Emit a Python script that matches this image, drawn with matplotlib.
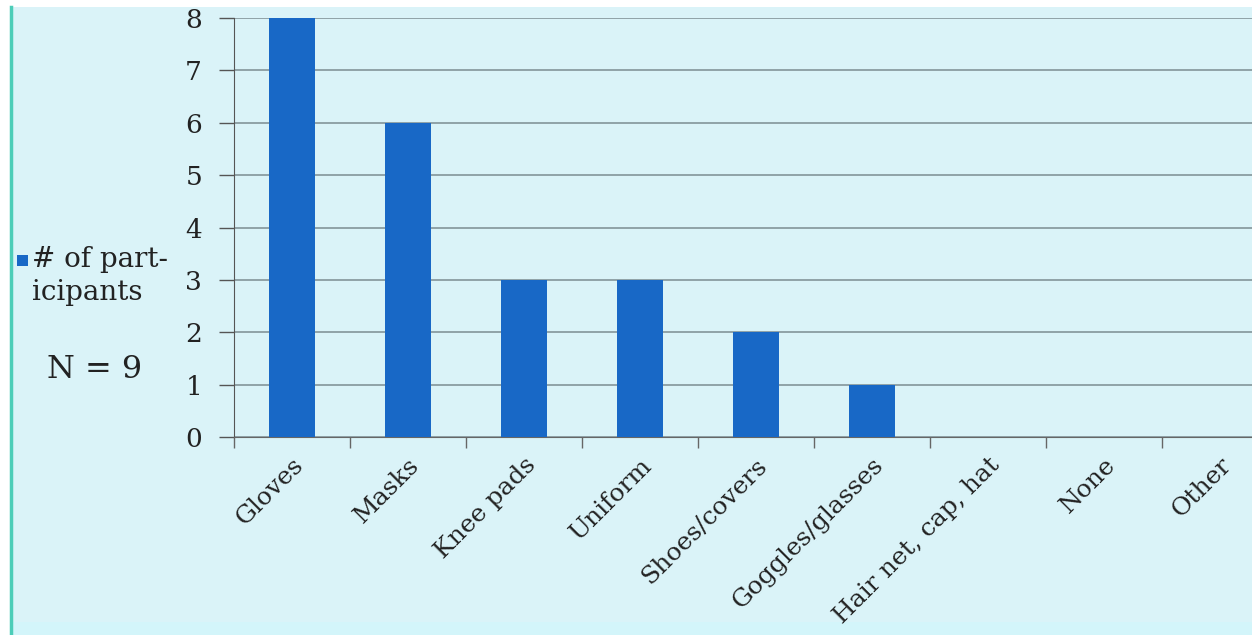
import matplotlib
matplotlib.use("Agg")
import matplotlib.pyplot as plt
import numpy as np
from matplotlib.patches import Rectangle

categories = ["Gloves", "Masks", "Knee pads", "Uniform", "Shoes/covers",
              "Goggles/glasses", "Hair net, cap, hat", "None", "Other"]
counts = [8, 6, 3, 3, 2, 1, 0, 0, 0]
yticks = [0, 1, 2, 3, 4, 5, 6, 7, 8]
series_name = "# of part-\nicipants"
note = "N = 9"

bg = "#daf3f8"
bar_color = "#1868c6"
grid_color = "#8a9ca1"

plt.rcParams["font.family"] = ["DejaVu Serif"]

W, H = 1252, 635
fig = plt.figure(figsize=(W / 100, H / 100), dpi=100, facecolor="white")

# slide background + left teal border
fig.patches.append(Rectangle((10 / W, 0), 1, 1 - 7 / H, transform=fig.transFigure,
                             facecolor=bg, edgecolor="none", zorder=-10))
fig.patches.append(Rectangle((10 / W, 0), 1, 13 / H, transform=fig.transFigure,
                             facecolor="#d3f5fa", edgecolor="none", zorder=-9))
fig.lines.append(plt.Line2D([11 / W, 11 / W], [0, 1 - 7 / H], transform=fig.transFigure,
                            color="#4ccdb8", lw=2.5, zorder=-8))

ax = fig.add_axes([234 / W, (H - 437) / H, 9 * 116 / W, (437 - 18) / H])
ax.set_zorder(2)
ax.set_facecolor("none")
x = np.arange(len(categories))
ax.bar(x, counts, width=0.39, color=bar_color, zorder=3)

ax.set_xlim(-0.5, len(categories) - 0.5)
ax.set_ylim(0, 8)
ax.set_yticks(yticks)
ax.set_yticklabels([str(v) for v in yticks], fontsize=19, color="#222222")
ax.yaxis.grid(True, color=grid_color, lw=1.3, zorder=1)
ax.set_axisbelow(True)

ax.set_xticks(x)
ax.set_xticklabels(categories, rotation=45, ha="right", rotation_mode="anchor",
                   fontsize=18, color="#222222")
ax.tick_params(axis="x", length=0, pad=12)
ax.set_xticks(np.arange(len(categories) + 1) - 0.5, minor=True)
ax.tick_params(axis="x", which="minor", length=8, color="#666666", width=1)
ax.tick_params(axis="y", length=11, color="#555555", width=1, pad=12)

for s in ["top", "right"]:
    ax.spines[s].set_visible(False)
ax.spines["left"].set_color("#555555")
ax.spines["bottom"].set_color("#666666")

# legend-like label on the left
fig.patches.append(Rectangle((17 / W, 1 - 266 / H), 11 / W, 11 / H, transform=fig.transFigure,
                             facecolor=bar_color, edgecolor="none", zorder=3))
fig.text(32 / W, 1 - 246 / H, series_name, fontsize=20, va="top", ha="left",
         color="#222222", linespacing=1.3)
fig.text(47 / W, 1 - 370 / H, note, fontsize=23, va="center", ha="left", color="#222222")

fig.savefig("out.png", dpi=100, facecolor="white")
